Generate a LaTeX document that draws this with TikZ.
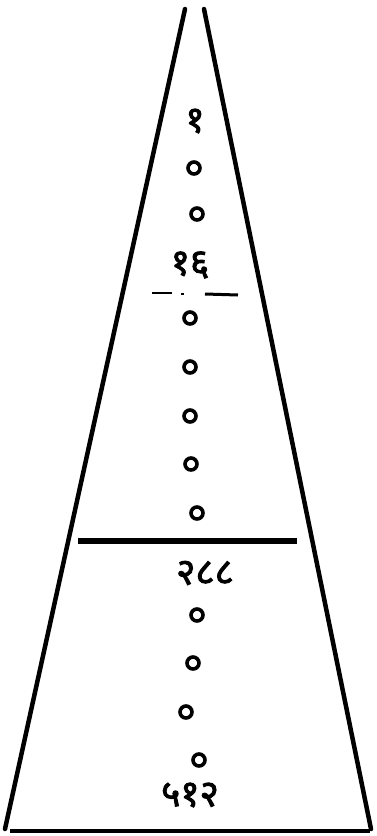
\documentclass[tikz,border=0pt]{standalone}
\usepackage{fontspec}
\newfontfamily\deva[Script=Devanagari,FakeBold=2.5]{Noto Sans}
\begin{document}
\begin{tikzpicture}[x=1pt,y=-1pt,
  side/.style={line width=4.5pt,line cap=round},
  num/.style={font=\deva\fontsize{37}{37}\selectfont,inner sep=0pt},
  dotc/.style={circle,draw,line width=3.6pt,minimum size=12pt,inner sep=0pt}]
\useasboundingbox (0,0) rectangle (377,836);
\coordinate (lt) at (185,9);
\coordinate (lb) at (5,829);
\coordinate (rt) at (204,9);
\coordinate (rb) at (371,829);
\coordinate (bl) at (10,831);
\coordinate (br) at (370,831);
\draw[side] (lt) -- (lb);
\draw[side] (rt) -- (rb);
\draw[line width=3.5pt] (bl) -- (br);
\coordinate (ml) at (78,541);
\coordinate (mr) at (297,541);
\draw[line width=5.5pt] (ml) -- (mr);
\coordinate (d1a) at (152,293); \coordinate (d1b) at (172,293);
\coordinate (d2a) at (181,294); \coordinate (d2b) at (184,294);
\coordinate (d3a) at (205,294); \coordinate (d3b) at (238,295);
\draw[line width=2.5pt] (d1a) -- (d1b);
\draw[line width=2.5pt] (d2a) -- (d2b);
\draw[line width=3pt] (d3a) -- (d3b);
\node[num] (n1) at (195,121) {१};
\node[dotc] (c1) at (194,168) {};
\node[dotc] (c2) at (197,214) {};
\node[num] (n16) at (190,265) {१६};
\node[dotc] (c3) at (190,318) {};
\node[dotc] (c4) at (190,367) {};
\node[dotc] (c5) at (190,416) {};
\node[dotc] (c6) at (191,464) {};
\node[dotc] (c7) at (197,513) {};
\node[num] (n288) at (205,573) {२८८};
\node[dotc] (c8) at (197,615) {};
\node[dotc] (c9) at (193,663) {};
\node[dotc] (c10) at (186,712) {};
\node[dotc] (c11) at (199,760) {};
\node[num] (n512) at (190,795) {५१२};
\end{tikzpicture}
\end{document}
